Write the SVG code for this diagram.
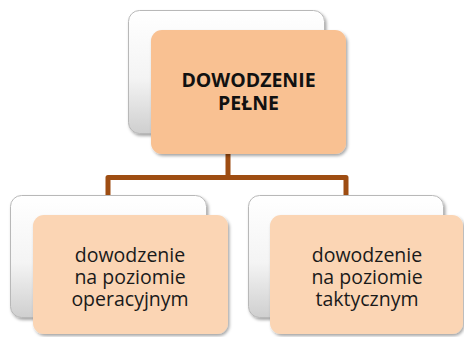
<svg xmlns="http://www.w3.org/2000/svg" width="464" height="337" viewBox="0 0 464 337">
  <defs>
    <linearGradient id="backGrad" x1="0" y1="0" x2="0" y2="1">
      <stop offset="0" stop-color="#ffffff"/>
      <stop offset="0.55" stop-color="#f4f4f4"/>
      <stop offset="1" stop-color="#cfcfcf"/>
    </linearGradient>
    <filter id="shadow" x="-10%" y="-10%" width="125%" height="130%">
      <feDropShadow dx="1.5" dy="2" stdDeviation="1.6" flood-color="#000" flood-opacity="0.35"/>
    </filter>
  </defs>
  <style>
    .back { fill: url(#backGrad); stroke: #b8b8b8; stroke-width: 1; filter: url(#shadow); }
    .front-top { fill: #f9c192; filter: url(#shadow); }
    .front { fill: #fbd5b4; filter: url(#shadow); }
    .title { font-family: "Open Sans", "DejaVu Sans", sans-serif; font-weight: bold; font-size: 19.5px; fill: #111; text-anchor: middle; }
    .label { font-family: "Open Sans", "DejaVu Sans", sans-serif; font-size: 19.5px; fill: #1a1a1a; text-anchor: middle; }
    .conn { fill: none; stroke: #9e4d12; stroke-width: 5; stroke-linejoin: round; }
  </style>

  <g id="connectors">
    <path class="conn" d="M228,153 V177.5 M108,195 V177.5 H346 V195"/>
  </g>

  <g id="node-full">
    <rect class="back" x="128.5" y="10.5" width="196" height="123" rx="11"/>
    <rect class="front-top" x="151" y="30" width="195" height="124" rx="11"/>
    <text class="title" x="248.5" y="87">DOWODZENIE</text>
    <text class="title" x="248.5" y="110">PEŁNE</text>
  </g>

  <g id="node-operational">
    <rect class="back" x="10.5" y="195.5" width="196" height="122" rx="11"/>
    <rect class="front" x="33" y="215" width="195" height="119" rx="11"/>
    <text class="label" x="130" y="262">dowodzenie</text>
    <text class="label" x="130" y="284">na poziomie</text>
    <text class="label" x="130" y="306">operacyjnym</text>
  </g>

  <g id="node-tactical">
    <rect class="back" x="248.5" y="195.5" width="195" height="122" rx="11"/>
    <rect class="front" x="270" y="215" width="193" height="119" rx="11"/>
    <text class="label" x="367" y="262">dowodzenie</text>
    <text class="label" x="367" y="284">na poziomie</text>
    <text class="label" x="367" y="306">taktycznym</text>
  </g>
</svg>
